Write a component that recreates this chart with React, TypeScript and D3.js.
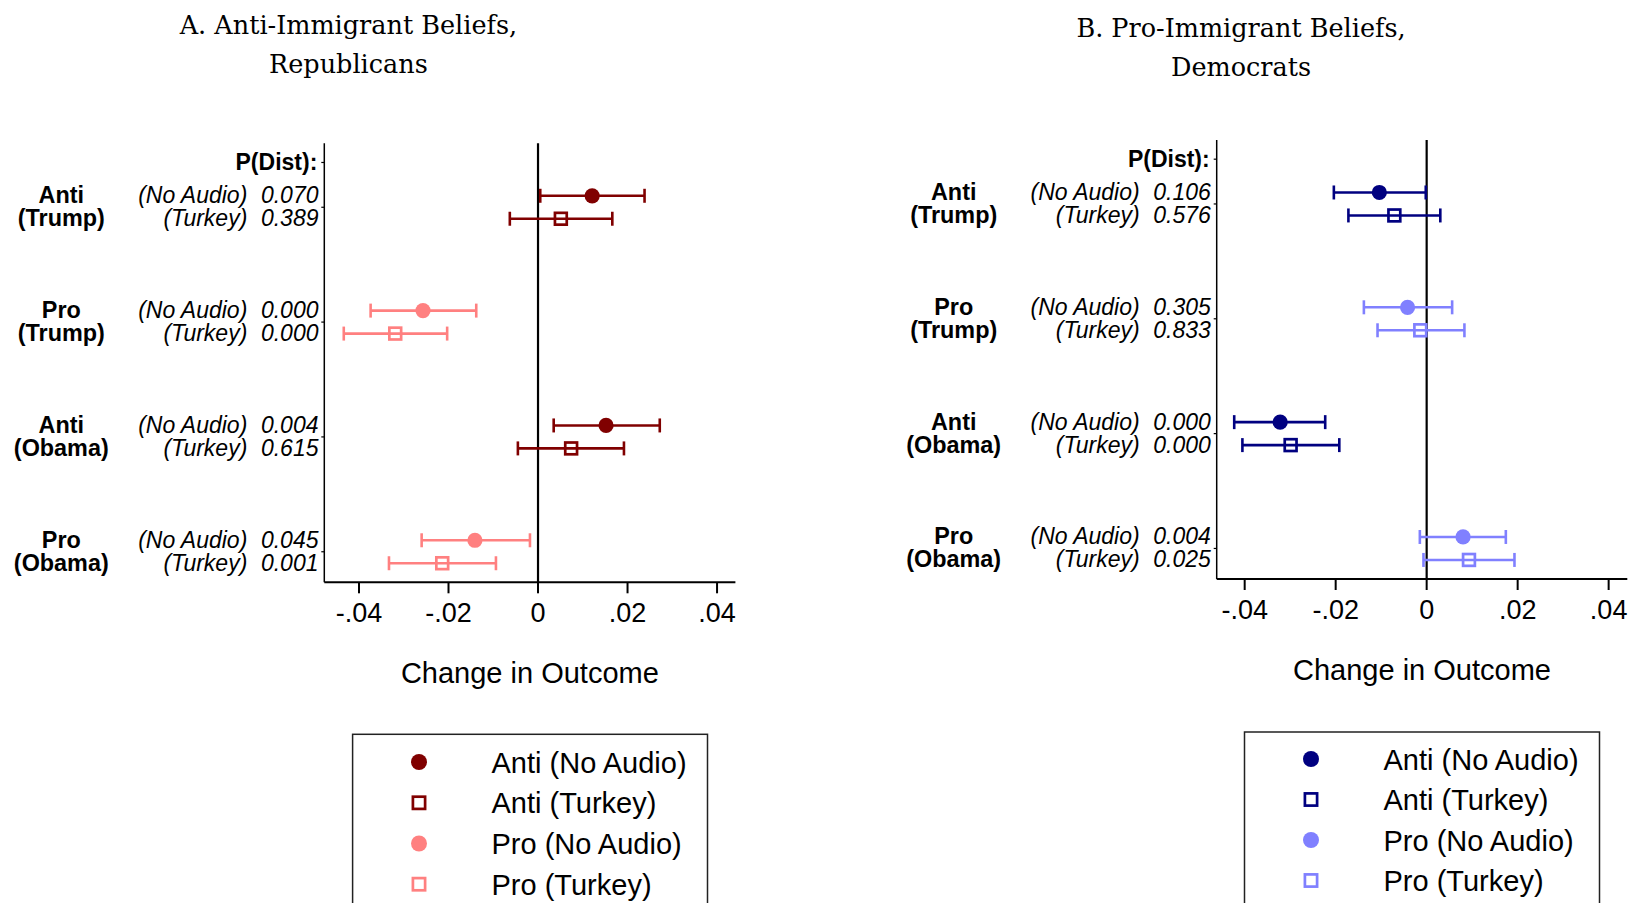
import React from "react";
import * as d3 from "d3";

// ---------- data ----------
const groupTop = ["Anti", "Pro", "Anti", "Pro"];
const groupBottom = ["(Trump)", "(Trump)", "(Obama)", "(Obama)"];
const conditions = ["(No Audio)", "(Turkey)"];

const repEst = [0.0121, 0.0051, -0.0257, -0.0319, 0.0152, 0.0074, -0.0141, -0.0214];
const repLo = [0.0005, -0.0063, -0.0374, -0.0434, 0.0035, -0.0045, -0.026, -0.0333];
const repHi = [0.0238, 0.0166, -0.0138, -0.0203, 0.0272, 0.0192, -0.0018, -0.0094];
const repP = ["0.070", "0.389", "0.000", "0.000", "0.004", "0.615", "0.045", "0.001"];

const demEst = [-0.0104, -0.0071, -0.0042, -0.0014, -0.0322, -0.0299, 0.008, 0.0093];
const demLo = [-0.0204, -0.0172, -0.0138, -0.0108, -0.0423, -0.0405, -0.0015, -0.0007];
const demHi = [-0.0002, 0.003, 0.0056, 0.0083, -0.0223, -0.0192, 0.0174, 0.0193];
const demP = ["0.106", "0.576", "0.305", "0.833", "0.000", "0.000", "0.004", "0.025"];

const xTicks = [-0.04, -0.02, 0, 0.02, 0.04];
const xTickLabels = ["-.04", "-.02", "0", ".02", ".04"];
const legendLabels = ["Anti (No Audio)", "Anti (Turkey)", "Pro (No Audio)", "Pro (Turkey)"];

const SANS = "'Liberation Sans', Arial, Helvetica, sans-serif";
const SERIF = "'DejaVu Serif', serif";

type PanelProps = {
  title: string[];
  titleX: number;
  titleY: number[];
  est: number[];
  lo: number[];
  hi: number[];
  pv: string[];
  x0: number;
  x1: number;
  domain: [number, number];
  top: number;
  bottom: number;
  antiColor: string;
  proColor: string;
  legendX0: number;
  legendX1: number;
  legendTop: number;
  legendRows: number[];
  legendMarkerX: number;
  legendTextX: number;
};

function Marker({ cx, cy, filled, color, r, side }: any) {
  if (filled) return <circle cx={cx} cy={cy} r={r} fill={color} />;
  return (
    <rect
      x={cx - side / 2}
      y={cy - side / 2}
      width={side}
      height={side}
      fill="none"
      stroke={color}
      strokeWidth={2.7}
    />
  );
}

function Panel(p: PanelProps) {
  const x = d3.scaleLinear().domain(p.domain).range([p.x0, p.x1]);
  const y = d3.scaleLinear().domain([0.443, 4.266]).range([p.top, p.bottom]);
  const rows = p.est.map((e, i) => {
    const g = Math.floor(i / 2);
    const c = i % 2;
    return { i, g, c, e, lo: p.lo[i], hi: p.hi[i], pv: p.pv[i], yy: y(g + 1 + (c === 0 ? -0.1 : 0.1)) };
  });
  const colorOf = (g: number) => (groupTop[g] === "Anti" ? p.antiColor : p.proColor);
  const capH = 7;
  const fs = 23;
  const legendColors = [p.antiColor, p.antiColor, p.proColor, p.proColor];
  return (
    <g>
      {/* title */}
      {p.title.map((t, k) => (
        <text key={k} x={p.titleX} y={p.titleY[k]} textAnchor="middle" fontFamily={SERIF} fontSize={25.5} fill="#000">
          {t}
        </text>
      ))}
      {/* y axis */}
      <line x1={p.x0} x2={p.x0} y1={p.top} y2={p.bottom} stroke="#000" strokeWidth={1.5} />
      {[0.61, 1, 2, 3, 4].map((v) => (
        <line key={v} x1={p.x0 - 3} x2={p.x0} y1={y(v)} y2={y(v)} stroke="#000" strokeWidth={1.2} />
      ))}
      {/* x axis */}
      <line x1={p.x0} x2={p.x1} y1={p.bottom} y2={p.bottom} stroke="#000" strokeWidth={2} />
      {xTicks.map((t, k) => (
        <g key={k}>
          <line x1={x(t)} x2={x(t)} y1={p.bottom} y2={p.bottom + 11} stroke="#000" strokeWidth={2} />
          <text x={x(t)} y={p.bottom + 40} textAnchor="middle" fontFamily={SANS} fontSize={27} fill="#000">
            {xTickLabels[k]}
          </text>
        </g>
      ))}
      <text x={(p.x0 + p.x1) / 2} y={p.bottom + 101} textAnchor="middle" fontFamily={SANS} fontSize={29} fill="#000">
        Change in Outcome
      </text>
      {/* zero line */}
      <line x1={x(0)} x2={x(0)} y1={p.top} y2={p.bottom} stroke="#000" strokeWidth={2.2} />
      {/* P(Dist) header */}
      <text x={p.x0 - 7} y={y(0.61) + 7.8} textAnchor="end" fontFamily={SANS} fontWeight="bold" fontSize={fs} fill="#000">
        P(Dist):
      </text>
      {/* row labels */}
      {rows.map((r) => (
        <g key={"lab" + r.i}>
          <text x={p.x0 - 263} y={r.yy + 7.5} textAnchor="middle" fontFamily={SANS} fontWeight="bold" fontSize={23.4} fill="#000">
            {r.c === 0 ? groupTop[r.g] : groupBottom[r.g]}
          </text>
          <text x={p.x0 - 77} y={r.yy + 7.5} textAnchor="end" fontFamily={SANS} fontStyle="italic" fontSize={fs} fill="#000">
            {conditions[r.c]}
          </text>
          <text x={p.x0 - 5.8} y={r.yy + 7.5} textAnchor="end" fontFamily={SANS} fontStyle="italic" fontSize={fs} fill="#000">
            {r.pv}
          </text>
        </g>
      ))}
      {/* error bars + markers */}
      {rows.map((r) => {
        const col = colorOf(r.g);
        return (
          <g key={"pt" + r.i}>
            <line x1={x(r.lo)} x2={x(r.hi)} y1={r.yy} y2={r.yy} stroke={col} strokeWidth={2.6} />
            <line x1={x(r.lo)} x2={x(r.lo)} y1={r.yy - capH} y2={r.yy + capH} stroke={col} strokeWidth={2.6} />
            <line x1={x(r.hi)} x2={x(r.hi)} y1={r.yy - capH} y2={r.yy + capH} stroke={col} strokeWidth={2.6} />
            <Marker cx={x(r.e)} cy={r.yy} filled={r.c === 0} color={col} r={7.6} side={11.8} />
          </g>
        );
      })}
      {/* legend */}
      <rect
        x={p.legendX0}
        y={p.legendTop}
        width={p.legendX1 - p.legendX0}
        height={300}
        fill="none"
        stroke="#222"
        strokeWidth={1.5}
      />
      {legendLabels.map((l, k) => (
        <g key={"lg" + k}>
          <Marker cx={p.legendMarkerX} cy={p.legendRows[k]} filled={k % 2 === 0} color={legendColors[k]} r={8} side={12.2} />
          <text x={p.legendTextX} y={p.legendRows[k] + 10.5} fontFamily={SANS} fontSize={29} fill="#000">
            {l}
          </text>
        </g>
      ))}
    </g>
  );
}

export default function App() {
  return (
    <svg
      width={1631}
      height={903}
      viewBox="0 0 1631 903"
      style={{ position: "absolute", left: 0, top: 0, display: "block", background: "#fff" }}
    >
      <rect x={0} y={0} width={1631} height={903} fill="#fff" />
      <Panel
        title={["A. Anti-Immigrant Beliefs,", "Republicans"]}
        titleX={348.4}
        titleY={[34.3, 72.7]}
        est={repEst}
        lo={repLo}
        hi={repHi}
        pv={repP}
        x0={324.3}
        x1={735.4}
        domain={[-0.04775, 0.0441]}
        top={143.3}
        bottom={582.3}
        antiColor="#800000"
        proColor="#FF8080"
        legendX0={352.6}
        legendX1={707.5}
        legendTop={734.3}
        legendRows={[762, 802.8, 843.5, 884.2]}
        legendMarkerX={419}
        legendTextX={491.5}
      />
      <Panel
        title={["B. Pro-Immigrant Beliefs,", "Democrats"]}
        titleX={1241}
        titleY={[37.3, 76]}
        est={demEst}
        lo={demLo}
        hi={demHi}
        pv={demP}
        x0={1216.7}
        x1={1627.3}
        domain={[-0.04615, 0.0441]}
        top={140}
        bottom={579}
        antiColor="#000080"
        proColor="#8080FF"
        legendX0={1244.5}
        legendX1={1599.5}
        legendTop={732}
        legendRows={[759, 799.5, 840, 880.5]}
        legendMarkerX={1311}
        legendTextX={1383.5}
      />
    </svg>
  );
}
